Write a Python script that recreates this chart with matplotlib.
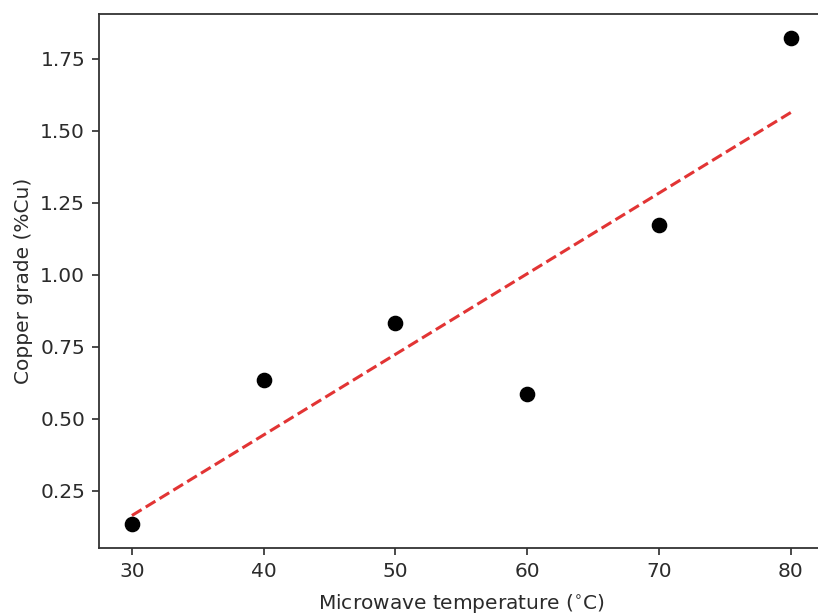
import numpy as np
import matplotlib
matplotlib.use('Agg')
import matplotlib.pyplot as plt

# microwave temperature (C) vs copper grade (%Cu)
temperature = np.array([30, 40, 50, 60, 70, 80])
copper_grade = np.array([0.136, 0.633, 0.834, 0.587, 1.172, 1.82])

# linear fit through the points
slope, intercept = np.polyfit(temperature, copper_grade, 1)
fit_line = slope * temperature + intercept

plt.rcParams['font.size'] = 14.5
text_col = '#2b2b2b'

fig = plt.figure(figsize=(8.18, 6.15), dpi=100)
ax = fig.add_axes([0.121, 0.109, 0.886, 0.868])

ax.scatter(temperature, copper_grade, color='black', s=105, zorder=3)
ax.plot(temperature, fit_line, color='#e23434', linestyle='--', linewidth=2.2)

ax.set_xticks([30, 40, 50, 60, 70, 80])
ax.set_yticks([0.25, 0.50, 0.75, 1.00, 1.25, 1.50, 1.75])
ax.set_yticklabels(['0.25', '0.50', '0.75', '1.00', '1.25', '1.50', '1.75'])
ax.tick_params(colors=text_col, labelcolor=text_col, length=5, width=1.2, pad=5)
for sp in ax.spines.values():
    sp.set_color('#333333')
    sp.set_linewidth(1.3)

ax.set_xlabel(r'Microwave temperature ($^{\circ}$C)', color=text_col, labelpad=8)
ax.set_ylabel('Copper grade (%Cu)', color=text_col, labelpad=5)

fig.savefig('out.png', dpi=100)
